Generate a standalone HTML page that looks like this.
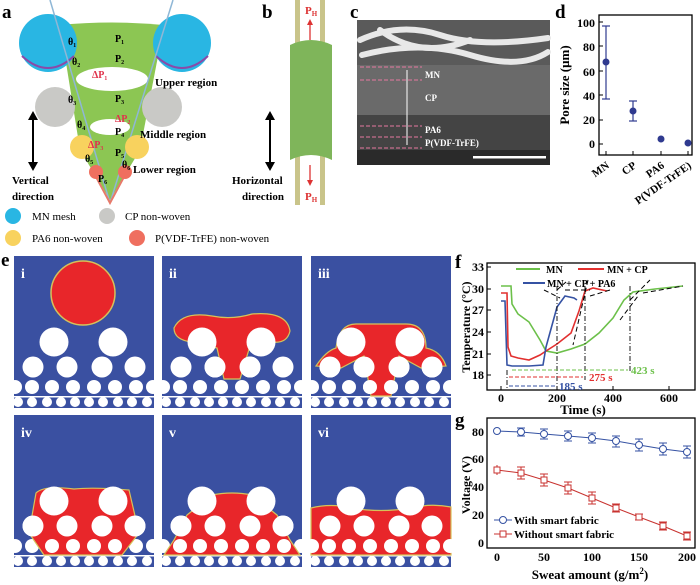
<!DOCTYPE html>
<html><head><meta charset="utf-8"><style>
html,body{margin:0;padding:0;background:#fff}
svg{display:block}
text{font-family:"Liberation Serif",serif;font-weight:bold}
</style></head><body>
<svg width="700" height="585" viewBox="0 0 700 585" xmlns="http://www.w3.org/2000/svg">
<defs>
<g id="base">
<rect x="0" y="0" width="140" height="152" fill="#3a50a1"/>
<g fill="#fff">
<circle cx="19" cy="111" r="10.5"/><circle cx="53" cy="111" r="10.5"/><circle cx="88" cy="111" r="10.5"/><circle cx="121" cy="111" r="10.5"/>
<circle cx="1" cy="131" r="7"/><circle cx="18" cy="131" r="7"/><circle cx="38" cy="131" r="7"/><circle cx="59" cy="131" r="7"/><circle cx="80" cy="131" r="7"/><circle cx="101" cy="131" r="7"/><circle cx="122" cy="131" r="7"/><circle cx="139" cy="131" r="7"/>
<rect x="0" y="140" width="140" height="1.5"/>
<circle cx="4" cy="146" r="5"/><circle cx="18" cy="146" r="5"/><circle cx="33" cy="146" r="5"/><circle cx="47" cy="146" r="5"/><circle cx="61" cy="146" r="5"/><circle cx="75" cy="146" r="5"/><circle cx="89" cy="146" r="5"/><circle cx="104" cy="146" r="5"/><circle cx="118" cy="146" r="5"/><circle cx="133" cy="146" r="5"/>
</g>
</g>
<g id="big" fill="#fff"><circle cx="40" cy="86" r="14.5"/><circle cx="99" cy="86" r="14.5"/></g>
</defs>

<!-- Panel a -->
<text x="2" y="18" font-size="19">a</text>
<path d="M60,25 Q112,20 164,25 L140,150 L110,200 L80,150 Z" fill="#8cc653"/>
<ellipse cx="112" cy="79" rx="36" ry="12" fill="#fff"/>
<ellipse cx="110" cy="127" rx="20" ry="8" fill="#fff"/>
<circle cx="48" cy="43" r="29" fill="#29b6e3"/><circle cx="182" cy="43" r="29" fill="#29b6e3"/>
<path d="M22,56 Q48,80 74,56" stroke="#8a4aa8" stroke-width="2" fill="none"/>
<path d="M156,56 Q182,80 208,56" stroke="#8a4aa8" stroke-width="2" fill="none"/>
<line x1="50" y1="0" x2="110" y2="203" stroke="#8fb7d6" stroke-width="1.5"/>
<line x1="173" y1="0" x2="110" y2="203" stroke="#8fb7d6" stroke-width="1.5"/>
<polyline points="95,175 110,203 125,175" stroke="#e77a6a" stroke-width="2" fill="none"/>
<circle cx="55" cy="107" r="20" fill="#c9c9c6"/><circle cx="162" cy="107" r="20" fill="#c9c9c6"/>
<circle cx="82" cy="147" r="12" fill="#f8d25e"/><circle cx="137" cy="147" r="12" fill="#f8d25e"/>
<circle cx="96" cy="172" r="7" fill="#ef6f5f"/><circle cx="125" cy="172" r="7" fill="#ef6f5f"/>
<g font-size="10">
<text x="68" y="45">θ₁</text><text x="72" y="65">θ₂</text><text x="68" y="103">θ₃</text><text x="77" y="128">θ₄</text><text x="85" y="162">θ₅</text><text x="122" y="168">θ₆</text>
<text x="115" y="42">P₁</text><text x="115" y="62">P₂</text><text x="115" y="102">P₃</text><text x="115" y="135">P₄</text><text x="115" y="156">P₅</text><text x="98" y="182">P₆</text>
<text x="92" y="78" fill="#e0334c">ΔP₁</text><text x="115" y="122" fill="#e0334c">ΔP₂</text><text x="88" y="148" fill="#e0334c">ΔP₃</text>
<text x="155" y="86" font-size="11">Upper region</text>
<text x="140" y="138" font-size="11">Middle region</text>
<text x="133" y="173" font-size="11">Lower region</text>
<text x="12" y="184" font-size="11">Vertical</text><text x="12" y="200" font-size="11">direction</text>
</g>
<line x1="33" y1="116" x2="33" y2="166" stroke="#000" stroke-width="2"/>
<path d="M28,120 L33,111 L38,120 Z M28,162 L33,171 L38,162 Z" fill="#000"/>
<g font-size="11">
<circle cx="13" cy="216" r="8" fill="#29b6e3"/><text x="32" y="220" style="font-weight:normal">MN mesh</text>
<circle cx="107" cy="216" r="8" fill="#c9c9c6"/><text x="125" y="220" style="font-weight:normal">CP  non-woven</text>
<circle cx="13" cy="238" r="8" fill="#f8d25e"/><text x="32" y="242" style="font-weight:normal">PA6  non-woven</text>
<circle cx="137" cy="238" r="8" fill="#ef6f5f"/><text x="155" y="242" style="font-weight:normal">P(VDF-TrFE) non-woven</text>
</g>

<!-- Panel b -->
<text x="262" y="18" font-size="19">b</text>
<rect x="295" y="0" width="5" height="205" fill="#c9c48a"/><rect x="320" y="0" width="5" height="205" fill="#c9c48a"/>
<path d="M290,45 Q311,35 332,45 L332,160 Q311,150 290,160 Z" fill="#7fb55a"/>
<line x1="310" y1="40" x2="310" y2="22" stroke="#d33" stroke-width="1.3"/><path d="M307,25 L310,19 L313,25Z" fill="#d33"/>
<line x1="310" y1="165" x2="310" y2="183" stroke="#d33" stroke-width="1.3"/><path d="M307,180 L310,186 L313,180Z" fill="#d33"/>
<text x="305" y="14" font-size="11" fill="#d33">P<tspan font-size="7" dy="2">H</tspan></text>
<text x="305" y="200" font-size="11" fill="#d33">P<tspan font-size="7" dy="2">H</tspan></text>
<line x1="270" y1="116" x2="270" y2="166" stroke="#000" stroke-width="2"/>
<path d="M265,120 L270,111 L275,120 Z M265,162 L270,171 L275,162 Z" fill="#000"/>
<text x="232" y="184" font-size="11">Horizontal</text><text x="242" y="200" font-size="11">direction</text>

<!-- Panel c -->
<text x="350" y="18" font-size="19">c</text>
<rect x="357" y="20" width="193" height="145" fill="#2a2a2a"/>
<rect x="357" y="20" width="193" height="45" fill="#5a5a5a"/>
<rect x="357" y="65" width="193" height="50" fill="#6a6a6a"/>
<rect x="357" y="115" width="193" height="35" fill="#444"/>
<g stroke="#e8e8e8" stroke-width="6" fill="none" stroke-linecap="round">
<path d="M360,40 Q400,22 440,35 Q480,48 548,38"/><path d="M362,55 Q420,40 470,55 T548,52"/><path d="M380,30 Q420,60 470,40"/>
</g>
<g stroke="#e678a0" stroke-width="1" stroke-dasharray="4,2" fill="none">
<line x1="360" y1="67" x2="422" y2="67"/><line x1="360" y1="80" x2="422" y2="80"/><line x1="360" y1="126" x2="422" y2="126"/><line x1="360" y1="137" x2="422" y2="137"/><line x1="360" y1="148" x2="422" y2="148"/>
</g>
<line x1="407" y1="70" x2="407" y2="145" stroke="#fff"/>
<g fill="#fff" font-size="9"><text x="425" y="78">MN</text><text x="425" y="101">CP</text><text x="425" y="133">PA6</text><text x="425" y="146">P(VDF-TrFE)</text></g>
<rect x="473" y="156" width="73" height="2.5" fill="#fff"/>

<!-- Panel d -->
<text x="555" y="18" font-size="19">d</text>
<rect x="599" y="15" width="93" height="140" fill="none" stroke="#000" stroke-width="1.3"/>
<g font-size="12" text-anchor="end">
<text x="595" y="27">100</text><text x="595" y="51">80</text><text x="595" y="76">60</text><text x="595" y="100">40</text><text x="595" y="124">20</text><text x="595" y="148">0</text>
</g>
<g stroke="#000"><line x1="599" y1="22" x2="603" y2="22"/><line x1="599" y1="46" x2="603" y2="46"/><line x1="599" y1="71" x2="603" y2="71"/><line x1="599" y1="95" x2="603" y2="95"/><line x1="599" y1="120" x2="603" y2="120"/><line x1="599" y1="144" x2="603" y2="144"/>
<line x1="606" y1="155" x2="606" y2="151"/><line x1="633" y1="155" x2="633" y2="151"/><line x1="661" y1="155" x2="661" y2="151"/><line x1="688" y1="155" x2="688" y2="151"/></g>
<text transform="translate(569,85) rotate(-90)" font-size="13" text-anchor="middle">Pore size (μm)</text>
<g stroke="#2f3a8f" stroke-width="1.2">
<line x1="606" y1="26" x2="606" y2="99"/><line x1="602" y1="26" x2="610" y2="26"/><line x1="602" y1="99" x2="610" y2="99"/>
<line x1="633" y1="101" x2="633" y2="121"/><line x1="629" y1="101" x2="637" y2="101"/><line x1="629" y1="121" x2="637" y2="121"/>
</g>
<g fill="#2f3a8f"><circle cx="606" cy="62" r="3.5"/><circle cx="633" cy="111" r="3.5"/><circle cx="661" cy="139" r="3.5"/><circle cx="688" cy="143" r="3.5"/></g>
<g font-size="11" text-anchor="end">
<text transform="translate(610,167) rotate(-35)">MN</text><text transform="translate(637,167) rotate(-35)">CP</text><text transform="translate(665,167) rotate(-35)">PA6</text><text transform="translate(692,167) rotate(-35)">P(VDF-TrFE)</text>
</g>

<!-- Panel e -->
<text x="1" y="266" font-size="19">e</text>
<g transform="translate(14,256)"><use href="#base"/><use href="#big"/>
<circle cx="69" cy="37" r="32" fill="#e8262a" stroke="#d5c25a" stroke-width="1.5"/>
<text x="7" y="22" font-size="14" fill="#fff">i</text></g>
<g transform="translate(162,256)"><use href="#base"/>
<path d="M12,72 Q20,55 50,60 Q70,64 90,58 Q125,55 128,75 Q125,88 110,86 L88,90 L78,123 L62,123 L55,92 L30,86 Q12,84 12,72Z" fill="#e8262a" stroke="#d5c25a" stroke-width="1.2"/>
<use href="#big"/><circle cx="53" cy="111" r="10.5" fill="#fff"/><circle cx="88" cy="111" r="10.5" fill="#fff"/>
<text x="7" y="22" font-size="14" fill="#fff">ii</text></g>
<g transform="translate(311,256)"><use href="#base"/>
<path d="M5,110 Q15,95 25,92 Q28,68 45,68 L95,68 Q115,68 115,92 Q130,95 135,110 L110,112 L88,100 L80,140 L60,140 L53,100 L30,112Z" fill="#e8262a" stroke="#d5c25a" stroke-width="1.2"/>
<use href="#big"/><circle cx="19" cy="111" r="10.5" fill="#fff"/><circle cx="53" cy="111" r="10.5" fill="#fff"/><circle cx="88" cy="111" r="10.5" fill="#fff"/><circle cx="121" cy="111" r="10.5" fill="#fff"/><circle cx="59" cy="131" r="7" fill="#fff"/><circle cx="80" cy="131" r="7" fill="#fff"/>
<text x="7" y="22" font-size="14" fill="#fff">iii</text></g>
<g transform="translate(14,415)"><use href="#base"/>
<path d="M22,78 Q30,70 60,74 Q80,72 115,75 L125,118 L108,140 L30,140 L15,118Z" fill="#e8262a" stroke="#d5c25a" stroke-width="1.2"/>
<use href="#big"/><circle cx="19" cy="111" r="10.5" fill="#fff"/><circle cx="53" cy="111" r="10.5" fill="#fff"/><circle cx="88" cy="111" r="10.5" fill="#fff"/><circle cx="121" cy="111" r="10.5" fill="#fff"/>
<circle cx="38" cy="131" r="7" fill="#fff"/><circle cx="59" cy="131" r="7" fill="#fff"/><circle cx="80" cy="131" r="7" fill="#fff"/><circle cx="101" cy="131" r="7" fill="#fff"/>
<text x="7" y="22" font-size="14" fill="#fff">iv</text></g>
<g transform="translate(162,415)"><use href="#base"/>
<path d="M50,80 Q70,76 90,80 L115,100 L128,125 L138,140 L2,140 L12,125 L25,100Z" fill="#e8262a" stroke="#d5c25a" stroke-width="1.2"/>
<use href="#big"/><circle cx="19" cy="111" r="10.5" fill="#fff"/><circle cx="53" cy="111" r="10.5" fill="#fff"/><circle cx="88" cy="111" r="10.5" fill="#fff"/><circle cx="121" cy="111" r="10.5" fill="#fff"/>
<circle cx="18" cy="131" r="7" fill="#fff"/><circle cx="38" cy="131" r="7" fill="#fff"/><circle cx="59" cy="131" r="7" fill="#fff"/><circle cx="80" cy="131" r="7" fill="#fff"/><circle cx="101" cy="131" r="7" fill="#fff"/><circle cx="122" cy="131" r="7" fill="#fff"/>
<text x="7" y="22" font-size="14" fill="#fff">v</text></g>
<g transform="translate(311,415)"><use href="#base"/>
<path d="M0,93 Q20,88 40,93 Q70,98 100,93 Q120,88 140,92 L140,140 L0,140Z" fill="#e8262a" stroke="#d5c25a" stroke-width="1.2"/>
<use href="#big"/><circle cx="19" cy="111" r="10.5" fill="#fff"/><circle cx="53" cy="111" r="10.5" fill="#fff"/><circle cx="88" cy="111" r="10.5" fill="#fff"/><circle cx="121" cy="111" r="10.5" fill="#fff"/>
<circle cx="1" cy="131" r="7" fill="#fff"/><circle cx="18" cy="131" r="7" fill="#fff"/><circle cx="38" cy="131" r="7" fill="#fff"/><circle cx="59" cy="131" r="7" fill="#fff"/><circle cx="80" cy="131" r="7" fill="#fff"/><circle cx="101" cy="131" r="7" fill="#fff"/><circle cx="122" cy="131" r="7" fill="#fff"/><circle cx="139" cy="131" r="7" fill="#fff"/>
<text x="7" y="22" font-size="14" fill="#fff">vi</text></g>

<!-- Panel f -->
<text x="455" y="268" font-size="19">f</text>
<rect x="487" y="263" width="208" height="127" fill="none" stroke="#000" stroke-width="1.3"/>
<g font-size="12" text-anchor="end">
<text x="484" y="271">33</text><text x="484" y="293">30</text><text x="484" y="314">27</text><text x="484" y="336">24</text><text x="484" y="358">21</text><text x="484" y="379">18</text>
</g>
<g font-size="12" text-anchor="middle"><text x="501" y="402">0</text><text x="557" y="402">200</text><text x="613" y="402">400</text><text x="669" y="402">600</text></g>
<text x="583" y="414" font-size="13" text-anchor="middle">Time (s)</text>
<text transform="translate(470,327) rotate(-90)" font-size="12" text-anchor="middle">Temperature (°C)</text>
<g stroke="#000"><line x1="501" y1="390" x2="501" y2="386"/><line x1="557" y1="390" x2="557" y2="386"/><line x1="613" y1="390" x2="613" y2="386"/><line x1="669" y1="390" x2="669" y2="386"/>
<line x1="487" y1="267" x2="491" y2="267"/><line x1="487" y1="289" x2="491" y2="289"/><line x1="487" y1="310" x2="491" y2="310"/><line x1="487" y1="332" x2="491" y2="332"/><line x1="487" y1="354" x2="491" y2="354"/><line x1="487" y1="375" x2="491" y2="375"/></g>
<polyline fill="none" stroke="#6cc04a" stroke-width="1.6" points="501,286 511,286 512,304 518,314 529,322 540,340 546,351 557,353 571,349 585,344 599,333 613,318 624,300 633,292 655,289 683,286"/>
<polyline fill="none" stroke="#e2302f" stroke-width="1.6" points="501,293 507,293 508,347 511,356 518,358 529,360 540,355 546,351 557,344 571,333 579,311 585,291 593,288 607,291"/>
<polyline fill="none" stroke="#3552a3" stroke-width="1.6" points="501,301 505,301 507,365 512,366 529,366 543,365 546,347 554,318 557,307 565,296 574,298 577,300"/>
<g stroke="#000" stroke-width="1" stroke-dasharray="5,3" fill="none">
<line x1="544" y1="290" x2="560" y2="298"/><line x1="557" y1="290" x2="566" y2="282"/><line x1="565" y1="290" x2="590" y2="290"/><line x1="588" y1="280" x2="573" y2="345"/>
<line x1="610" y1="290" x2="590" y2="296"/><line x1="643" y1="293" x2="683" y2="286"/><line x1="630" y1="300" x2="650" y2="280"/><line x1="620" y1="320" x2="638" y2="296"/>
</g>
<g stroke="#000" stroke-width="0.9" stroke-dasharray="5,2,1,2">
<line x1="507" y1="370" x2="507" y2="390"/><line x1="557" y1="286" x2="557" y2="388"/><line x1="585" y1="286" x2="585" y2="380"/><line x1="630" y1="286" x2="630" y2="372"/>
</g>
<g stroke-width="1" stroke-dasharray="4,2">
<line x1="512" y1="370" x2="628" y2="370" stroke="#6cc04a"/><line x1="509" y1="377" x2="583" y2="377" stroke="#e2302f"/><line x1="509" y1="386" x2="555" y2="386" stroke="#3552a3"/>
</g>
<text x="631" y="374" font-size="11" fill="#6cc04a">423 s</text>
<text x="589" y="381" font-size="11" fill="#e2302f">275 s</text>
<text x="559" y="390" font-size="11" fill="#3552a3">185 s</text>
<line x1="516" y1="269" x2="540" y2="269" stroke="#6cc04a" stroke-width="2"/><text x="546" y="273" font-size="10">MN</text>
<line x1="578" y1="269" x2="604" y2="269" stroke="#e2302f" stroke-width="2"/><text x="607" y="273" font-size="10">MN + CP</text>
<line x1="523" y1="283" x2="545" y2="283" stroke="#3552a3" stroke-width="2"/><text x="547" y="287" font-size="10">MN + CP + PA6</text>

<!-- Panel g -->
<text x="455" y="426" font-size="19">g</text>
<rect x="487" y="418" width="208" height="130" fill="none" stroke="#000" stroke-width="1.3"/>
<g font-size="12" text-anchor="end">
<text x="484" y="436">80</text><text x="484" y="463">60</text><text x="484" y="491">40</text><text x="484" y="519">20</text><text x="484" y="547">0</text>
</g>
<g font-size="12" text-anchor="middle"><text x="497" y="561">0</text><text x="544" y="561">50</text><text x="592" y="561">100</text><text x="639" y="561">150</text><text x="687" y="561">200</text></g>
<text x="590" y="579" font-size="13" text-anchor="middle">Sweat amount (g/m<tspan font-size="9" dy="-5">2</tspan><tspan dy="5">)</tspan></text>
<text transform="translate(470,485) rotate(-90)" font-size="12" text-anchor="middle">Voltage (V)</text>
<g stroke="#3552a3" stroke-width="1" fill="none">
<polyline points="497,431 521,432 544,434 568,436 592,438 616,441 639,445 663,449 687,452"/>
<path d="M521,428v8M544,429v10M568,431v10M592,433v10M616,436v11M639,439v12M663,443v12M687,446v12M517,428h8M517,436h8M540,429h8M540,439h8M564,431h8M564,441h8M588,433h8M588,443h8M612,436h8M612,447h8M635,439h8M635,451h8M659,443h8M659,455h8M683,446h8M683,458h8"/>
<g fill="#fff"><circle cx="497" cy="431" r="3.5"/><circle cx="521" cy="432" r="3.5"/><circle cx="544" cy="434" r="3.5"/><circle cx="568" cy="436" r="3.5"/><circle cx="592" cy="438" r="3.5"/><circle cx="616" cy="441" r="3.5"/><circle cx="639" cy="445" r="3.5"/><circle cx="663" cy="449" r="3.5"/><circle cx="687" cy="452" r="3.5"/></g>
</g>
<g stroke="#c8322f" stroke-width="1" fill="none">
<polyline points="497,470 521,473 544,480 568,488 592,498 616,508 639,517 663,526 687,536"/>
<path d="M497,465v10M521,467v12M544,474v12M568,482v12M592,492v12M616,504v8M639,514v6M663,522v8M687,532v8M517,467h8M517,479h8M540,474h8M540,486h8M564,482h8M564,494h8M588,492h8M588,504h8M612,504h8M612,512h8M635,514h8M635,520h8M659,522h8M659,530h8M683,532h8M683,540h8"/>
<g fill="#fff"><rect x="494" y="467" width="6" height="6"/><rect x="518" y="470" width="6" height="6"/><rect x="541" y="477" width="6" height="6"/><rect x="565" y="485" width="6" height="6"/><rect x="589" y="495" width="6" height="6"/><rect x="613" y="505" width="6" height="6"/><rect x="636" y="514" width="6" height="6"/><rect x="660" y="523" width="6" height="6"/><rect x="684" y="533" width="6" height="6"/></g>
</g>
<line x1="494" y1="520" x2="512" y2="520" stroke="#3552a3"/><circle cx="503" cy="520" r="3.5" fill="#fff" stroke="#3552a3"/>
<text x="514" y="524" font-size="11">With smart fabric</text>
<line x1="494" y1="534" x2="512" y2="534" stroke="#c8322f"/><rect x="500" y="531" width="6" height="6" fill="#fff" stroke="#c8322f"/>
<text x="514" y="538" font-size="11">Without smart fabric</text>
</svg>
</body></html>
